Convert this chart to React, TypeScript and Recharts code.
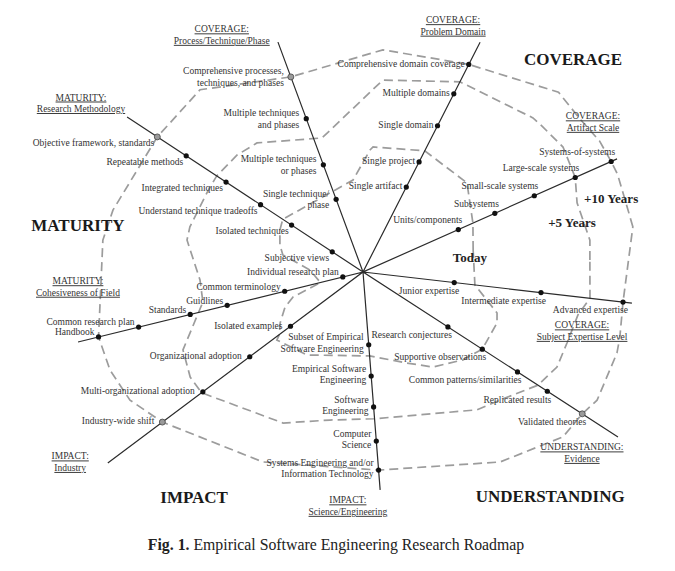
import React from 'react';
import { RadarChart, Radar, PolarAngleAxis, PolarRadiusAxis } from 'recharts';

const FONT = '"Liberation Serif", "Times New Roman", Times, serif';

// ---- Axes: angle (deg, counter-clockwise from 3 o'clock) and length on the 0–10 radius scale
const axisTitles: string[][] = [
  ['COVERAGE:', 'Artifact Scale'],
  ['COVERAGE:', 'Problem Domain'],
  ['COVERAGE:', 'Process/Technique/Phase'],
  ['MATURITY:', 'Research Methodology'],
  ['MATURITY:', 'Cohesiveness of Field'],
  ['IMPACT:', 'Industry'],
  ['IMPACT:', 'Science/Engineering'],
  ['UNDERSTANDING:', 'Evidence'],
  ['COVERAGE:', 'Subject Expertise Level'],
];
const axisAngles = [24.0, 63.0, 110.3, 146.7, 193.8, 216.8, 274.5, 327.1, 353.4];
const axisLengths = [8.69, 8.06, 7.66, 8.82, 9.17, 9.96, 6.83, 9.49, 8.46];
const titleAngles = [33.1, 69.9, 120.8, 149.1, 183.0, 213.0, 266.3, 320.4, 344.9];
const titleRadii = [8.58, 8.19, 8.62, 10.27, 8.92, 10.91, 7.33, 8.88, 7.09];

// ---- Levels along each axis (from the centre outwards)
const levelLabels: string[][] = [
  ['Units/components', 'Subsystems', 'Small-scale systems', 'Large-scale systems', 'Systems-of-systems'],
  ['Single artifact', 'Single project', 'Single domain', 'Multiple domains', 'Comprehensive domain coverage'],
  ['Single technique/\nphase', 'Multiple techniques\nor phases', 'Multiple techniques\nand phases', 'Comprehensive processes,\ntechniques, and phases'],
  ['Subjective views', 'Isolated techniques', 'Understand technique tradeoffs', 'Integrated techniques', 'Repeatable methods', 'Objective framework, standards'],
  ['Individual research plan', 'Common terminology', 'Guidlines', 'Standards', 'Common research plan', 'Handbook'],
  ['Isolated examples', 'Organizational adoption', 'Multi-organizational adoption', 'Industry-wide shift'],
  ['Subset of Empirical\nSoftware Engineering', 'Empirical Software\nEngineering', 'Software\nEngineering', 'Computer\nScience', 'Systems Engineering and/or\nInformation Technology'],
  ['Research conjectures', 'Supportive observations', 'Common patterns/similarities', 'Replicated results', 'Validated theories'],
  ['Junior expertise', 'Intermediate expertise', 'Advanced expertise'],
];
const levelValues: number[][] = [
  [3.26, 4.51, 5.86, 7.26, 8.49],
  [2.98, 3.86, 5.13, 6.25, 7.28],
  [2.42, 3.57, 5.11, 6.5],
  [1.15, 2.67, 3.83, 5.12, 6.61, 7.69],
  [0.65, 2.52, 4.37, 5.56, 7.22, 8.51],
  [2.83, 4.42, 6.25, 7.83],
  [2.28, 3.26, 4.23, 5.3, 6.21],
  [3.16, 4.44, 5.75, 6.86, 8.16],
  [2.87, 5.6, 8.18],
];
const openMarkers = [
  'Comprehensive processes,\ntechniques, and phases',
  'Objective framework, standards',
  'Industry-wide shift',
  'Validated theories',
];

// ---- Big region captions and horizon captions
const regionNames = ['COVERAGE', 'MATURITY', 'IMPACT', 'UNDERSTANDING'];
const regionAngles = [45.4, 170.6, 233.1, 309.9];
const regionRadii = [9.35, 9.03, 8.79, 9.12];

const eraNames = ['Today', '+5 Years', '+10 Years'];
const eraAngles = [7.5, 13.2, 16.6];
const eraRadii = [3.37, 6.71, 8.09];

// ---- Horizon outlines as [angle, radius] vertices
const todayPath: number[][] = [
  [11.3, 3.51], [24.0, 3.76], [40.6, 4.28], [63.0, 4.25], [85.4, 3.92], [86.7, 3.82], [96.2, 2.89],
  [146.7, 3.0], [153.2, 2.91], [162.0, 2.73], [168.0, 2.56], [177.8, 1.66], [193.8, 1.37],
  [199.7, 2.32], [204.2, 2.67], [211.6, 3.04], [216.8, 3.26], [218.3, 3.43], [236.0, 3.13],
  [274.5, 2.63], [295.8, 3.16], [306.4, 3.69], [318.7, 4.16], [327.1, 4.44], [339.2, 4.48],
  [343.0, 4.38], [353.4, 3.52],
];
const plus5Path: number[][] = [
  [3.0, 7.1], [8.0, 7.16], [17.9, 7.03], [24.0, 7.26], [32.0, 7.37], [38.9, 7.22], [42.2, 7.17],
  [63.0, 6.67], [84.1, 6.03], [107.0, 4.38], [129.4, 5.22], [137.1, 5.37], [146.7, 5.47],
  [153.1, 5.47], [165.4, 5.59], [169.7, 5.59], [182.8, 5.1], [190.6, 5.09], [203.4, 6.13],
  [211.3, 6.32], [216.8, 6.3], [242.1, 5.34], [257.4, 4.74], [274.5, 4.6], [309.6, 5.59],
  [316.9, 5.86], [327.1, 6.51], [333.9, 6.75], [340.8, 6.75], [348.7, 6.85], [353.4, 7.14],
];
const plus10Path: number[][] = [
  [9.5, 8.55], [14.0, 8.5], [21.0, 8.52], [24.0, 8.49], [29.0, 8.45], [35.0, 8.3], [42.6, 8.3],
  [63.0, 7.28], [84.9, 6.97], [110.3, 6.5], [131.8, 7.64], [146.7, 7.69], [166.1, 8.05],
  [173.0, 8.19], [193.8, 8.51], [201.2, 8.48], [208.8, 8.31], [216.8, 7.83], [242.2, 6.71],
  [274.5, 6.21], [305.8, 7.32], [320.5, 8.1], [327.1, 8.16], [331.3, 8.34], [342.3, 8.33],
  [345.8, 8.28], [353.4, 8.18],
];

// ---- Label placement per axis (styling, not data)
const labelStyles = [
  { dx: 4, dy: -10 },
  { dx: -4, dy: -1 },
  { dx: -7, dy: 0 },
  { dx: -3, dy: 6 },
  { dx: -4, dy: -5 },
  { dx: -8, dy: -1 },
  { dx: -5, dy: -2 },
  { dx: 4, dy: 8 },
  { dx: 5, dy: 8 },
];

type Row = Record<string, any>;

// annotation layer: spokes, level markers, titles, captions
const annotRows: Row[] = [];
axisAngles.forEach((a, i) => {
  annotRows.push({ angle: a, spoke: axisLengths[i] });
  annotRows.push({ angle: a, spoke: 0 });
});
levelLabels.forEach((labels, i) =>
  labels.forEach((t, j) => annotRows.push({ angle: axisAngles[i], level: levelValues[i][j], text: t, axis: i }))
);
axisTitles.forEach((t, i) => annotRows.push({ angle: titleAngles[i], title: titleRadii[i], lines: t }));
regionNames.forEach((t, i) => annotRows.push({ angle: regionAngles[i], region: regionRadii[i], text: t }));
eraNames.forEach((t, i) => annotRows.push({ angle: eraAngles[i], era: eraRadii[i], text: t }));

// one table per outline so that no empty rows fall into a polygon
const todayRows: Row[] = todayPath.map(([a, r]) => ({ angle: a, today: r }));
const plus5Rows: Row[] = plus5Path.map(([a, r]) => ({ angle: a, plus5: r }));
const plus10Rows: Row[] = plus10Path.map(([a, r]) => ({ angle: a, plus10: r }));

const rowOf = (p: any): Row => (p && p.payload && p.payload.payload) || (p && p.payload) || {};
const has = (p: any, key: string) => {
  const row = rowOf(p);
  return p && Number.isFinite(p.cx) && Number.isFinite(p.cy) && row[key] !== undefined && row[key] !== null;
};

const LevelDot = (p: any) => {
  if (!has(p, 'level')) return <g key={`lv-${p.index}`} />;
  const row = rowOf(p);
  const st = labelStyles[row.axis] || { dx: 0, dy: 0 };
  const lines = String(row.text).split('\n');
  const fs = 9.5;
  const lh = 11.5;
  const x = p.cx + st.dx;
  const y0 = p.cy + st.dy - ((lines.length - 1) * lh) / 2 + fs * 0.35;
  const open = openMarkers.includes(row.text);
  return (
    <g key={`lv-${p.index}`}>
      <text x={x} y={y0} textAnchor="end" fontSize={fs} fill="#333" fontFamily={FONT}>
        {lines.map((l, k) => (
          <tspan key={k} x={x} dy={k === 0 ? 0 : lh}>{l}</tspan>
        ))}
      </text>
      <circle cx={p.cx} cy={p.cy} r={open ? 3 : 2.6} fill={open ? '#9a9a9a' : '#111'} stroke={open ? '#444' : 'none'} strokeWidth={0.8} />
    </g>
  );
};

const TitleDot = (p: any) => {
  if (!has(p, 'title')) return <g key={`tt-${p.index}`} />;
  const row = rowOf(p);
  const lines: string[] = row.lines || [];
  return (
    <g key={`tt-${p.index}`}>
      {lines.map((l, k) => (
        <text key={k} x={p.cx} y={p.cy - 6 + k * 11.5 + 3.3} textAnchor="middle" fontSize={9.5} fill="#333" fontFamily={FONT} textDecoration="underline">
          {l}
        </text>
      ))}
    </g>
  );
};

const RegionDot = (p: any) => {
  if (!has(p, 'region')) return <g key={`rg-${p.index}`} />;
  const row = rowOf(p);
  return (
    <text key={`rg-${p.index}`} x={p.cx} y={p.cy + 6} textAnchor="middle" fontSize={17} fontWeight="bold" fill="#1a1a1a" fontFamily={FONT}>
      {row.text}
    </text>
  );
};

const EraDot = (p: any) => {
  if (!has(p, 'era')) return <g key={`er-${p.index}`} />;
  const row = rowOf(p);
  return (
    <text key={`er-${p.index}`} x={p.cx} y={p.cy + 4.5} textAnchor="middle" fontSize={13} fontWeight="bold" fill="#222" fontFamily={FONT}>
      {row.text}
    </text>
  );
};

const dashed = { stroke: '#9c9c9c', strokeWidth: 1.7, strokeDasharray: '9 5', fill: 'none', fillOpacity: 0 };

const PolarLayer = ({ data, children }: { data: Row[]; children: React.ReactNode }) => (
  <div style={{ position: 'absolute', left: 0, top: 0 }}>
    <RadarChart
      width={675}
      height={571}
      data={data}
      cx={363}
      cy={272}
      outerRadius={320}
      startAngle={0}
      endAngle={360}
      margin={{ top: 0, right: 0, bottom: 0, left: 0 }}
    >
      <PolarAngleAxis dataKey="angle" type="number" scale="linear" domain={[0, 360]} allowDataOverflow tick={false} tickLine={false} axisLine={false} />
      <PolarRadiusAxis type="number" domain={[0, 10]} allowDataOverflow tick={false} axisLine={false} />
      {children}
    </RadarChart>
  </div>
);

export default function App() {
  return (
    <div style={{ position: 'absolute', left: 0, top: 0, width: 675, height: 571, background: '#fff' }}>
      <PolarLayer data={plus10Rows}>
        <Radar dataKey="plus10" {...dashed} connectNulls dot={false} isAnimationActive={false} />
      </PolarLayer>
      <PolarLayer data={plus5Rows}>
        <Radar dataKey="plus5" {...dashed} connectNulls dot={false} isAnimationActive={false} />
      </PolarLayer>
      <PolarLayer data={todayRows}>
        <Radar dataKey="today" {...dashed} connectNulls dot={false} isAnimationActive={false} />
      </PolarLayer>
      <PolarLayer data={annotRows}>
        <Radar dataKey="spoke" stroke="#2b2b2b" strokeWidth={1.2} fill="none" fillOpacity={0} dot={false} isAnimationActive={false} />
        <Radar dataKey="level" stroke="none" fill="none" fillOpacity={0} dot={LevelDot} isAnimationActive={false} />
        <Radar dataKey="title" stroke="none" fill="none" fillOpacity={0} dot={TitleDot} isAnimationActive={false} />
        <Radar dataKey="region" stroke="none" fill="none" fillOpacity={0} dot={RegionDot} isAnimationActive={false} />
        <Radar dataKey="era" stroke="none" fill="none" fillOpacity={0} dot={EraDot} isAnimationActive={false} />
      </PolarLayer>
      <div
        style={{
          position: 'absolute',
          left: 0,
          top: 535,
          width: 672,
          textAlign: 'center',
          fontFamily: FONT,
          fontSize: 15.8,
          lineHeight: '20px',
          color: '#222',
        }}
      >
        <b>Fig. 1.</b> Empirical Software Engineering Research Roadmap
      </div>
    </div>
  );
}
